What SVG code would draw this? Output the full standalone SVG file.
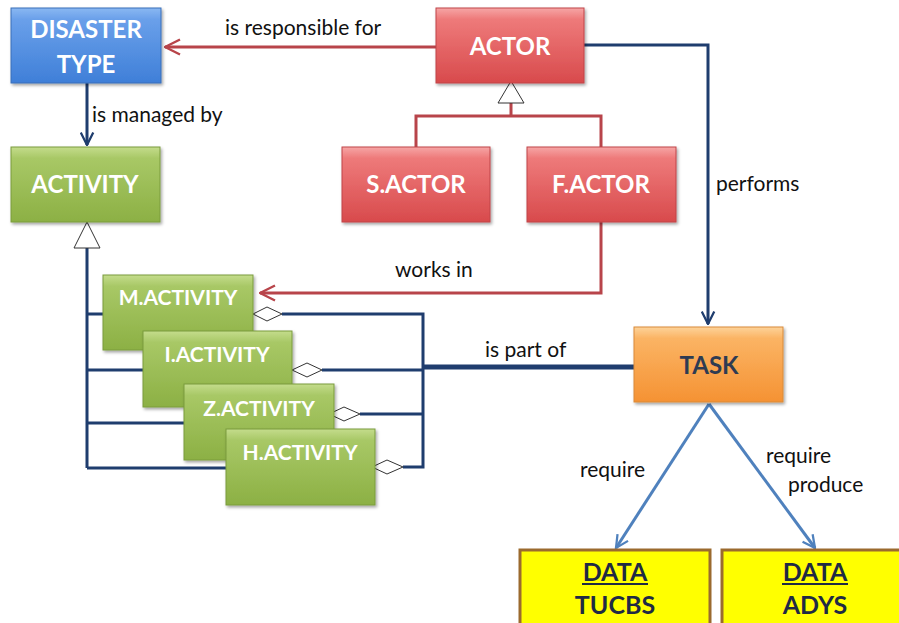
<svg xmlns="http://www.w3.org/2000/svg" width="899" height="623" viewBox="0 0 899 623">
<defs>
<style>
.nt{font-family:Lato,"Liberation Sans",sans-serif;font-weight:bold;font-size:24px;fill:#ffffff;text-anchor:middle}
.nt2{font-family:Lato,"Liberation Sans",sans-serif;font-weight:bold;font-size:21px;fill:#ffffff;text-anchor:middle}
.dt{font-family:Lato,"Liberation Sans",sans-serif;font-weight:bold;font-size:25px;fill:#1f2a44;text-anchor:middle}
.lb{font-family:Lato,"Liberation Sans",sans-serif;font-size:21px;fill:#111111}
.blue{stroke:#1f3d6e;stroke-width:3;fill:none}
.red{stroke:#b8444a;stroke-width:3;fill:none}
.steel{stroke:#4f81bd;stroke-width:3;fill:none}
.hollow{fill:#ffffff;stroke:#333333;stroke-width:1}
</style>
<linearGradient id="gBlue" x1="0" y1="0" x2="0" y2="1"><stop offset="0" stop-color="#8ab8f2"/><stop offset="0.15" stop-color="#6aa0ea"/><stop offset="1" stop-color="#3f7fd8"/></linearGradient>
<linearGradient id="gRed" x1="0" y1="0" x2="0" y2="1"><stop offset="0" stop-color="#f6a6a6"/><stop offset="0.15" stop-color="#ee7a7a"/><stop offset="1" stop-color="#d84a4c"/></linearGradient>
<linearGradient id="gGreen" x1="0" y1="0" x2="0" y2="1"><stop offset="0" stop-color="#c4dc8c"/><stop offset="0.15" stop-color="#a8c866"/><stop offset="1" stop-color="#8cb044"/></linearGradient>
<linearGradient id="gOrange" x1="0" y1="0" x2="0" y2="1"><stop offset="0" stop-color="#fdd39a"/><stop offset="0.15" stop-color="#fbb464"/><stop offset="1" stop-color="#f59233"/></linearGradient>
<filter id="sh" x="-10%" y="-10%" width="125%" height="130%"><feDropShadow dx="1.5" dy="2" stdDeviation="1.5" flood-color="#000000" flood-opacity="0.35"/></filter>
<marker id="aRed" viewBox="0 0 12 12" refX="11" refY="6" markerWidth="6" markerHeight="6" markerUnits="strokeWidth" orient="auto"><path d="M1,1 L11,6 L1,11" fill="none" stroke="#b8444a" stroke-width="1.6"/></marker>
<marker id="aBlue" viewBox="0 0 12 12" refX="11" refY="6" markerWidth="5" markerHeight="5" markerUnits="strokeWidth" orient="auto"><path d="M1,1 L11,6 L1,11" fill="none" stroke="#1f3d6e" stroke-width="1.8"/></marker>
<marker id="aSteel" viewBox="0 0 12 12" refX="11" refY="6" markerWidth="5" markerHeight="5" markerUnits="strokeWidth" orient="auto"><path d="M1,1 L11,6 L1,11" fill="none" stroke="#4f81bd" stroke-width="1.8"/></marker>
</defs>
<rect width="899" height="623" fill="#ffffff"/>

<g id="connectors">
<!-- is responsible for -->
<line class="red" x1="436" y1="47" x2="165" y2="47" marker-end="url(#aRed)"/>
<!-- is managed by -->
<line class="blue" x1="87" y1="83" x2="87" y2="145" marker-end="url(#aBlue)"/>
<!-- actor generalization -->
<path class="red" d="M416,147 V116 H601 V147 M511,116 V102"/>
<polygon class="hollow" points="511,81 498,103 524,103"/>
<!-- performs -->
<path class="blue" d="M584,45 H708 V324" marker-end="url(#aBlue)"/>
<!-- works in -->
<path class="red" d="M601,222 V293 H260" marker-end="url(#aRed)"/>
<!-- activity generalization -->
<path class="blue" d="M87,248 V468 M87,314 H103 M87,370 H143 M87,423 H184 M87,468 H226"/>
<polygon class="hollow" points="87,222 74,248 100,248"/>
<!-- aggregations -->
<path class="blue" d="M282,314 H423 V467 H403 M322,370 H423 M360,414 H423"/>
<polygon class="hollow" points="253,314 267,307 282,314 267,321"/>
<polygon class="hollow" points="292,370 307,363 322,370 307,377"/>
<polygon class="hollow" points="329,414 344,407 360,414 344,421"/>
<polygon class="hollow" points="372,467 387,460 403,467 387,474"/>
<!-- is part of -->
<line x1="423" y1="367" x2="636" y2="367" stroke="#1f3d6e" stroke-width="5"/>
<!-- require -->
<line class="steel" x1="709" y1="404" x2="616" y2="548" marker-end="url(#aSteel)"/>
<line class="steel" x1="709" y1="404" x2="815" y2="548" marker-end="url(#aSteel)"/>
<!-- labels -->
<text class="lb" x="225" y="35">is responsible for</text>
<text class="lb" x="92" y="122">is managed by</text>
<text class="lb" x="716" y="191">performs</text>
<text class="lb" x="395" y="277">works in</text>
<text class="lb" x="485" y="357">is part of</text>
<text class="lb" x="580" y="477">require</text>
<text class="lb" x="766" y="463">require</text>
<text class="lb" x="788" y="492">produce</text>
</g>

<g id="disaster-type">
<rect x="11" y="8" width="150" height="75" fill="url(#gBlue)" stroke="#3a6fb8" stroke-width="1" filter="url(#sh)"/>
<text class="nt" x="86" y="38">DISASTER</text>
<text class="nt" x="86" y="73">TYPE</text>
</g>
<g id="actor">
<rect x="436" y="8" width="148" height="75" fill="url(#gRed)" stroke="#c04448" stroke-width="1" filter="url(#sh)"/>
<text class="nt" x="510" y="55">ACTOR</text>
</g>
<g id="activity">
<rect x="11" y="147" width="149" height="75" fill="url(#gGreen)" stroke="#7a9c3c" stroke-width="1" filter="url(#sh)"/>
<text class="nt" x="85" y="193">ACTIVITY</text>
</g>
<g id="s-actor">
<rect x="342" y="147" width="148" height="75" fill="url(#gRed)" stroke="#c04448" stroke-width="1" filter="url(#sh)"/>
<text class="nt" x="416" y="193">S.ACTOR</text>
</g>
<g id="f-actor">
<rect x="527" y="147" width="149" height="75" fill="url(#gRed)" stroke="#c04448" stroke-width="1" filter="url(#sh)"/>
<text class="nt" x="601" y="193">F.ACTOR</text>
</g>
<g id="m-activity">
<rect x="103" y="275" width="150" height="75" fill="url(#gGreen)" stroke="#7a9c3c" stroke-width="1" filter="url(#sh)"/>
<text class="nt2" x="178" y="305">M.ACTIVITY</text>
</g>
<g id="i-activity">
<rect x="143" y="331" width="149" height="76" fill="url(#gGreen)" stroke="#7a9c3c" stroke-width="1" filter="url(#sh)"/>
<text class="nt2" x="217" y="362">I.ACTIVITY</text>
</g>
<g id="z-activity">
<rect x="184" y="384" width="150" height="76" fill="url(#gGreen)" stroke="#7a9c3c" stroke-width="1" filter="url(#sh)"/>
<text class="nt2" x="259" y="416">Z.ACTIVITY</text>
</g>
<g id="h-activity">
<rect x="226" y="429" width="149" height="76" fill="url(#gGreen)" stroke="#7a9c3c" stroke-width="1" filter="url(#sh)"/>
<text class="nt2" x="300" y="460">H.ACTIVITY</text>
</g>
<g id="task">
<rect x="634" y="327" width="149" height="75" fill="url(#gOrange)" stroke="#d98a3a" stroke-width="1" filter="url(#sh)"/>
<text class="nt" x="709" y="374" style="fill:#2e3b52">TASK</text>
</g>
<g id="data-tucbs">
<rect x="520" y="550" width="190" height="80" fill="#ffff00" stroke="#9b6a2e" stroke-width="3"/>
<text class="dt" x="615" y="581">DATA</text>
<line x1="582" y1="584" x2="648" y2="584" stroke="#1f2a44" stroke-width="2"/>
<text class="dt" x="615" y="614">TUCBS</text>
</g>
<g id="data-adys">
<rect x="722" y="550" width="190" height="80" fill="#ffff00" stroke="#9b6a2e" stroke-width="3"/>
<text class="dt" x="815" y="581">DATA</text>
<line x1="782" y1="584" x2="848" y2="584" stroke="#1f2a44" stroke-width="2"/>
<text class="dt" x="815" y="614">ADYS</text>
</g>
</svg>
